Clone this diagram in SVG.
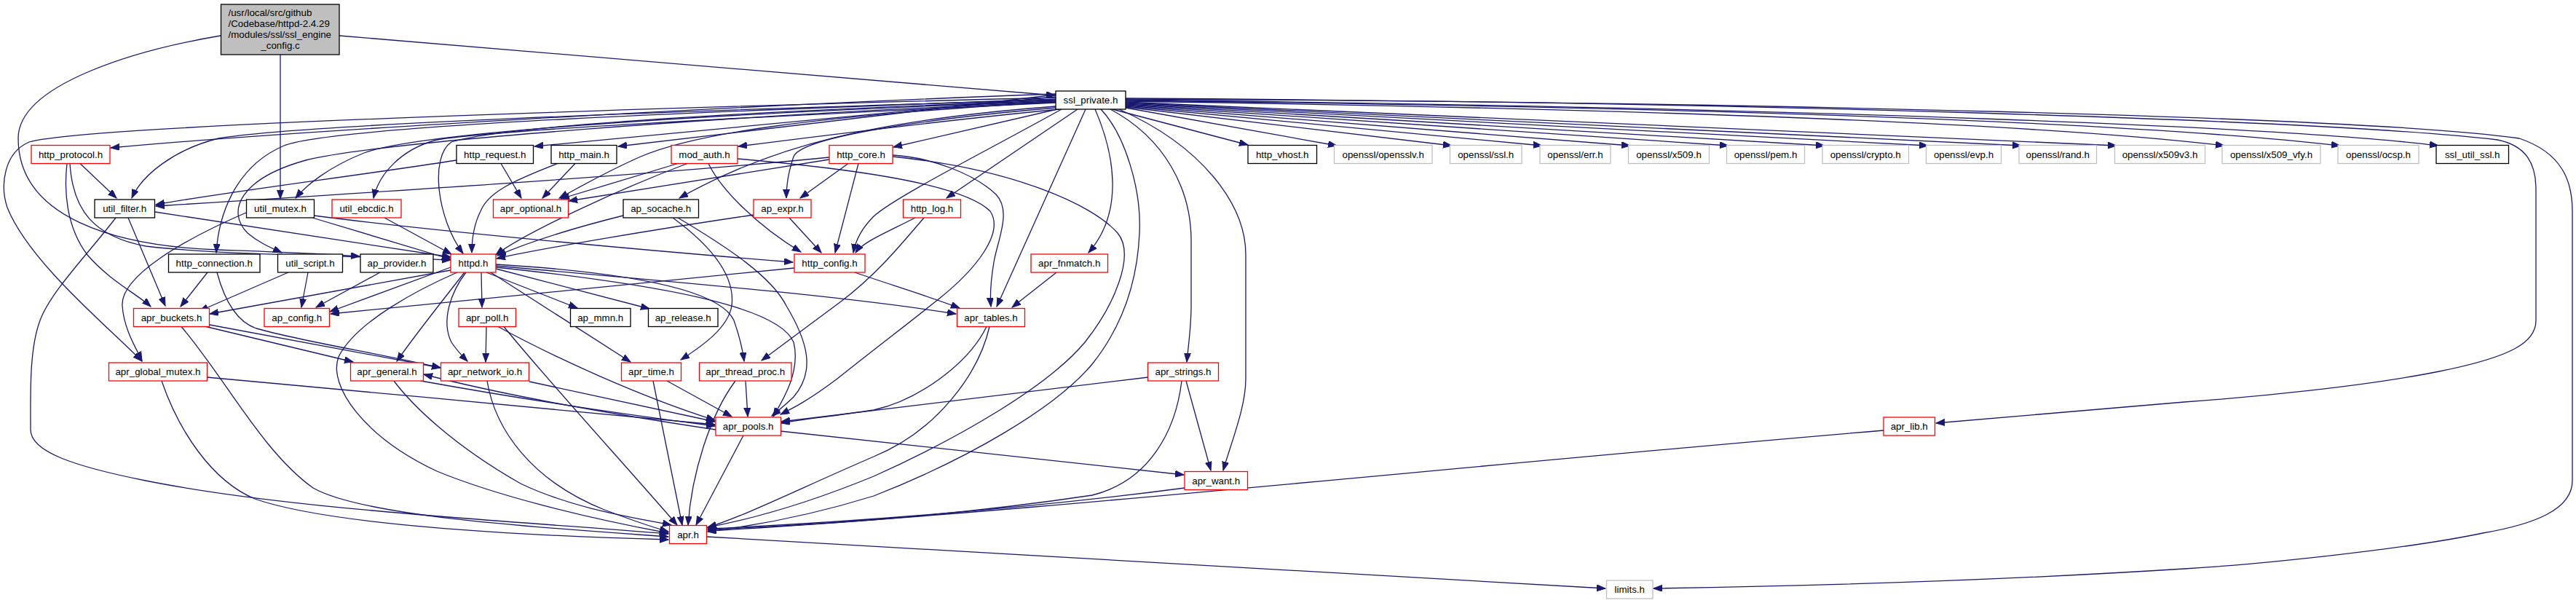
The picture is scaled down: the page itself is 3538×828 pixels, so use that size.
<svg xmlns="http://www.w3.org/2000/svg" width="3538" height="828" viewBox="0 0 3538 828">
<style>
rect{fill:#fff;stroke-width:1.3}
.b rect{stroke:#000}
.r rect{stroke:#ff0000}
.g rect{stroke:#bfbfbf}
.m rect{fill:#bfbfbf;stroke:#000}
text{font-family:"Liberation Sans",Arial,sans-serif;font-size:13.33px;text-anchor:middle;fill:#000}
#edges path{fill:none;stroke:#191970;stroke-width:1.3;marker-end:url(#a)}
</style>
<defs>
<marker id="a" markerWidth="13" markerHeight="10" refX="12" refY="4.5" orient="auto" markerUnits="userSpaceOnUse"><path d="M0,0 L12,4.5 L0,9 z" fill="#191970" stroke="#191970" stroke-width="1"/></marker>
</defs>
<rect x="0" y="0" width="3538" height="828" style="fill:#fff;stroke:none"/>
<g id="edges">
<!-- main -->
<path d="M466,49 L1449,131"/>
<path d="M385,75 L385,273"/>
<path d="M303,49 C190,68 25,115 25,190 C25,300 160,338 300,343 C380,346 440,348 494,352"/>
<!-- ssl_private -->
<path d="M1450,129 C1000,145 400,180 152,203"/>
<path d="M1450,133 L734,201"/>
<path d="M1450,130 L849,201"/>
<path d="M1455,150 C1300,165 1100,190 1014,201"/>
<path d="M1452,150 L1227,202"/>
<path d="M1528,150 L1714,199"/>
<path d="M1546,148 L1836,200"/>
<path d="M1546,147 L1994,200"/>
<path d="M1546,146 L2118,200"/>
<path d="M1546,145 L2239,200"/>
<path d="M1546,144 L2374,200"/>
<path d="M1546,143 L2506,200"/>
<path d="M1546,142 L2648,200"/>
<path d="M1546,141 L2776,200"/>
<path d="M1546,140 L2907,200"/>
<path d="M1546,139 C2300,150 2800,170 3055,200"/>
<path d="M1546,138 C2400,148 2950,170 3214,200"/>
<path d="M1546,137 C2500,148 3150,175 3349,200"/>
<path d="M1546,135 C2400,140 3200,165 3430,192 C3470,200 3483,225 3483,260 L3483,440 C3483,470 3450,490 3350,510 C3250,530 3100,545 3000,552 L2659,581"/>
<path d="M1546,136 C2400,140 3250,160 3460,190 C3520,210 3533,250 3533,290 L3533,660 C3533,700 3480,720 3410,732 C3300,755 3100,775 3000,781 C2700,800 2400,806 2271,808"/>
<path d="M1480,150 L1300,272"/>
<path d="M1450,148 C1250,165 1100,190 1090,215 C1083,235 1080,255 1080,272"/>
<path d="M1450,146 C1200,165 1060,200 933,272"/>
<path d="M1450,140 C1100,160 950,185 880,215 C830,237 800,255 768,272"/>
<path d="M1450,138 C1100,150 700,170 620,195 C590,215 600,300 636,348"/>
<path d="M1458,150 C1350,210 1230,270 1200,297 C1185,312 1175,330 1172,347"/>
<path d="M1450,137 C1000,150 420,170 300,190 C240,205 195,240 181,272"/>
<path d="M1450,139 C1000,155 580,180 500,210 C450,230 420,255 406,272"/>
<path d="M1450,141 C1050,160 680,178 600,192 C550,205 520,240 513,272"/>
<path d="M1450,136 C1000,152 460,172 390,200 C320,230 300,300 297,347"/>
<path d="M1450,140 C1000,158 520,195 420,220 C330,245 310,290 340,320 C355,333 372,340 387,347"/>
<path d="M1450,134 C900,148 120,172 40,195 C5,210 0,255 10,285 C40,360 150,450 195,496"/>
<path d="M1512,150 C1545,185 1568,260 1565,320 C1562,390 1540,450 1500,500 C1450,560 1330,630 1200,681 C1100,712 1020,724 972,730"/>
<path d="M1491,150 L1369,421"/>
<path d="M1504,150 C1530,210 1545,290 1495,347"/>
<path d="M1525,150 C1600,190 1636,260 1636,330 L1636,420 C1636,450 1632,475 1630,497"/>
<path d="M1537,150 C1650,200 1711,280 1711,350 L1711,520 C1711,560 1690,610 1680,646"/>
<!-- http_protocol -->
<path d="M110,224.5 L160,272"/>
<path d="M92,224.5 C88,260 90,310 120,350 C150,385 190,405 207,421"/>
<path d="M96,224.5 C100,290 130,325 200,338 C300,350 450,350 619,357"/>
<!-- http_request -->
<path d="M688,224.5 L716,272"/>
<path d="M627,220 C500,240 300,265 214,281"/>
<!-- http_main -->
<path d="M790,224.5 L745,272"/>
<path d="M766,224.5 C700,250 670,265 660,290 C650,310 648,330 648,347"/>
<!-- mod_auth -->
<path d="M931,224.5 L770,273"/>
<path d="M944,224.5 C850,260 720,320 681,350"/>
<path d="M973,224.5 C990,260 1040,310 1100,346"/>
<path d="M1013,218 C1150,230 1320,250 1360,290 C1380,320 1340,370 1290,410 C1240,450 1200,480 1150,520 C1110,550 1090,560 1072,569"/>
<!-- http_core -->
<path d="M1139,216 C900,240 500,265 214,283"/>
<path d="M1139,219 L781,276"/>
<path d="M1165,224.5 L1099,272"/>
<path d="M1179,224.5 L1147,347"/>
<path d="M1226,213 C1280,216 1340,240 1368,267 C1390,290 1370,330 1365,360 C1360,390 1360,410 1361,421"/>
<path d="M1226,215 C1390,232 1500,280 1535,320 C1560,350 1530,420 1490,470 C1440,530 1320,600 1200,654 C1100,695 1020,715 972,724"/>
<!-- ap_expr -->
<path d="M1035,295 C900,315 750,340 682,355"/>
<path d="M1084,299 L1128,347"/>
<!-- ap_socache -->
<path d="M856,296 C780,315 720,335 683,351"/>
<path d="M924,299 C980,340 1010,380 1005,420 C1000,450 965,475 935,494"/>
<path d="M931,299 C1000,340 1060,380 1080,420 C1110,470 1120,510 1090,545 C1080,555 1070,563 1060,571"/>
<!-- http_log -->
<path d="M1257,299 C1220,318 1185,332 1175,347"/>
<path d="M1269,299 C1230,345 1200,380 1155,414 L1046,495"/>
<!-- util_filter -->
<path d="M213,291 L619,353"/>
<path d="M176,299 L227,420"/>
<path d="M159,299 C120,350 70,400 55,440 C40,480 42,540 42,590 C42,620 100,640 200,660 C400,700 700,715 918,733"/>
<!-- util_mutex -->
<path d="M429,299 L619,356"/>
<path d="M431,296 C600,318 900,345 1089,360"/>
<path d="M338,292 C250,330 165,380 168,420 C170,450 185,475 195,495"/>
<!-- util_ebcdic -->
<path d="M528,299 L620,349"/>
<!-- http_connection -->
<path d="M285,374 L248,421"/>
<path d="M298,374 C305,400 320,440 352,451 C420,470 520,485 605,505"/>
<!-- util_script -->
<path d="M396,374 L274,427"/>
<path d="M423,374 L414,422"/>
<!-- ap_provider -->
<path d="M522,374 L434,422"/>
<!-- httpd -->
<path d="M619,367 L453,428"/>
<path d="M619,371 L288,431"/>
<path d="M661,374 L662,422"/>
<path d="M640,374 C620,400 605,440 620,470 C628,482 636,490 642,496"/>
<path d="M638,374 C610,410 570,460 545,496"/>
<path d="M668,374 L793,423"/>
<path d="M681,369 L892,424"/>
<path d="M674,374 L866,497"/>
<path d="M681,365 C900,385 1150,405 1313,431"/>
<path d="M681,363 C880,375 990,400 1008,440 C1015,460 1020,480 1022,496"/>
<path d="M681,367 C900,390 1070,420 1090,470 C1100,510 1075,550 1062,572"/>
<path d="M628,374 C580,395 490,440 465,490 C450,530 500,600 600,647 C680,680 800,710 918,732"/>
<!-- http_config -->
<path d="M1091,368 L454,431"/>
<path d="M1174,374 C1220,390 1270,405 1318,423"/>
<!-- apr_fnmatch -->
<path d="M1451,374 L1390,422"/>
<!-- apr_buckets -->
<path d="M283,448.5 L485,497"/>
<path d="M288,446 L605,505"/>
<path d="M249,448.5 C310,520 360,620 430,670 C500,710 750,725 918,737"/>
<!-- apr_poll -->
<path d="M668,448.5 L667,497"/>
<path d="M684,448.5 C760,490 880,545 982,577"/>
<path d="M692,448.5 C750,520 860,640 930,721"/>
<!-- apr_tables -->
<path d="M1355,448.5 C1330,500 1260,550 1200,563 C1140,572 1100,576 1073,581"/>
<path d="M1359,448.5 C1345,510 1290,590 1200,627 C1100,670 1020,710 972,724"/>
<!-- apr_global_mutex -->
<path d="M284,518 C500,538 800,565 982,583"/>
<path d="M222,523 C245,590 290,660 350,685 C450,720 700,735 918,741"/>
<!-- apr_general -->
<path d="M578,523 C700,545 850,568 982,585"/>
<path d="M541,523 C565,555 620,610 715,664 C790,700 880,712 922,721"/>
<!-- apr_network_io -->
<path d="M727,524 L982,579"/>
<path d="M669,523 C680,590 730,660 830,700 C870,715 900,725 918,730"/>
<!-- apr_time -->
<path d="M916,523 L1005,572"/>
<path d="M897,523 L937,721"/>
<!-- apr_thread_proc -->
<path d="M1024,523 L1027,572"/>
<path d="M1010,523 C975,570 950,650 945,721"/>
<!-- apr_strings -->
<path d="M1577,518 L1073,579"/>
<path d="M1623,523 C1615,590 1580,660 1500,680 C1300,710 1100,722 972,727"/>
<path d="M1629,523 L1663,646"/>
<!-- apr_pools -->
<path d="M983,590 C850,570 700,545 582,514"/>
<path d="M1021,598 L956,721"/>
<path d="M1072,592 L1626,652"/>
<!-- apr_lib -->
<path d="M2587,591 C2000,640 1400,705 972,729"/>
<!-- apr_want -->
<path d="M1627,670 C1400,700 1150,718 972,726"/>
<!-- apr -->
<path d="M971,737 L2205,808"/>
</g>
<g id="n_main" class="m"><rect x="303.5" y="6" width="162.5" height="69"/>
<text x="313.5" y="22" style="text-anchor:start">/usr/local/src/github</text>
<text x="313.5" y="37" style="text-anchor:start">/Codebase/httpd-2.4.29</text>
<text x="313.5" y="52" style="text-anchor:start">/modules/ssl/ssl_engine</text>
<text x="385" y="66.5">_config.c</text></g>
<g id="n_ssl_private" class="b"><rect x="1450" y="125" width="96" height="25"/><text x="1498" y="142">ssl_private.h</text></g>
<g id="n_http_protocol" class="r"><rect x="43" y="199.5" width="108" height="25"/><text x="97" y="216.5">http_protocol.h</text></g>
<g id="n_http_request" class="b"><rect x="627" y="199.5" width="105.5" height="25"/><text x="679.7" y="216.5">http_request.h</text></g>
<g id="n_http_main" class="b"><rect x="757" y="199.5" width="90" height="25"/><text x="802" y="216.5">http_main.h</text></g>
<g id="n_mod_auth" class="r"><rect x="922" y="199.5" width="91" height="25"/><text x="967.5" y="216.5">mod_auth.h</text></g>
<g id="n_http_core" class="r"><rect x="1139" y="199.5" width="87" height="25"/><text x="1182.5" y="216.5">http_core.h</text></g>
<g id="n_http_vhost" class="b"><rect x="1714" y="199.5" width="94.5" height="25"/><text x="1761.2" y="216.5">http_vhost.h</text></g>
<g id="n_opensslv" class="g"><rect x="1832.5" y="199.5" width="134.5" height="25"/><text x="1899.7" y="216.5">openssl/opensslv.h</text></g>
<g id="n_ossl_ssl" class="g"><rect x="1991.5" y="199.5" width="98.5" height="25"/><text x="2040.7" y="216.5">openssl/ssl.h</text></g>
<g id="n_ossl_err" class="g"><rect x="2115" y="199.5" width="97" height="25"/><text x="2163.5" y="216.5">openssl/err.h</text></g>
<g id="n_ossl_x509" class="g"><rect x="2236.5" y="199.5" width="111" height="25"/><text x="2292" y="216.5">openssl/x509.h</text></g>
<g id="n_ossl_pem" class="g"><rect x="2371.5" y="199.5" width="107" height="25"/><text x="2425" y="216.5">openssl/pem.h</text></g>
<g id="n_ossl_crypto" class="g"><rect x="2503" y="199.5" width="118.5" height="25"/><text x="2562.2" y="216.5">openssl/crypto.h</text></g>
<g id="n_ossl_evp" class="g"><rect x="2645.5" y="199.5" width="103" height="25"/><text x="2697" y="216.5">openssl/evp.h</text></g>
<g id="n_ossl_rand" class="g"><rect x="2773" y="199.5" width="106.5" height="25"/><text x="2826.2" y="216.5">openssl/rand.h</text></g>
<g id="n_ossl_x509v3" class="g"><rect x="2904.5" y="199.5" width="124" height="25"/><text x="2966.5" y="216.5">openssl/x509v3.h</text></g>
<g id="n_ossl_x509_vfy" class="g"><rect x="3052" y="199.5" width="135" height="25"/><text x="3119.5" y="216.5">openssl/x509_vfy.h</text></g>
<g id="n_ossl_ocsp" class="g"><rect x="3211" y="199.5" width="111" height="25"/><text x="3266.5" y="216.5">openssl/ocsp.h</text></g>
<g id="n_ssl_util_ssl" class="b"><rect x="3346" y="199.5" width="99.5" height="25"/><text x="3395.7" y="216.5">ssl_util_ssl.h</text></g>
<g id="n_util_filter" class="b"><rect x="130" y="274" width="82.5" height="25"/><text x="171.2" y="291">util_filter.h</text></g>
<g id="n_util_mutex" class="b"><rect x="338.5" y="274" width="93" height="25"/><text x="385" y="291">util_mutex.h</text></g>
<g id="n_util_ebcdic" class="r"><rect x="456" y="274" width="95" height="25"/><text x="503.5" y="291">util_ebcdic.h</text></g>
<g id="n_apr_optional" class="r"><rect x="677.5" y="274" width="103" height="25"/><text x="729" y="291">apr_optional.h</text></g>
<g id="n_ap_socache" class="b"><rect x="856" y="274" width="103.5" height="25"/><text x="907.7" y="291">ap_socache.h</text></g>
<g id="n_ap_expr" class="r"><rect x="1035" y="274" width="79" height="25"/><text x="1074.5" y="291">ap_expr.h</text></g>
<g id="n_http_log" class="r"><rect x="1240.5" y="274" width="79" height="25"/><text x="1280" y="291">http_log.h</text></g>
<g id="n_http_connection" class="b"><rect x="231.5" y="349" width="125.5" height="25"/><text x="294.2" y="366">http_connection.h</text></g>
<g id="n_util_script" class="b"><rect x="381.5" y="349" width="89" height="25"/><text x="426" y="366">util_script.h</text></g>
<g id="n_ap_provider" class="b"><rect x="495" y="349" width="100" height="25"/><text x="545" y="366">ap_provider.h</text></g>
<g id="n_httpd" class="r"><rect x="619" y="349" width="62" height="25"/><text x="650" y="366">httpd.h</text></g>
<g id="n_http_config" class="r"><rect x="1091" y="349" width="97" height="25"/><text x="1139.5" y="366">http_config.h</text></g>
<g id="n_apr_fnmatch" class="r"><rect x="1416" y="349" width="105.5" height="25"/><text x="1468.7" y="366">apr_fnmatch.h</text></g>
<g id="n_apr_buckets" class="r"><rect x="183.5" y="423.5" width="104" height="25"/><text x="235.5" y="440.5">apr_buckets.h</text></g>
<g id="n_ap_config" class="r"><rect x="363" y="423.5" width="89.5" height="25"/><text x="407.7" y="440.5">ap_config.h</text></g>
<g id="n_apr_poll" class="r"><rect x="630" y="423.5" width="78.5" height="25"/><text x="669.2" y="440.5">apr_poll.h</text></g>
<g id="n_ap_mmn" class="b"><rect x="783.5" y="423.5" width="82.5" height="25"/><text x="824.7" y="440.5">ap_mmn.h</text></g>
<g id="n_ap_release" class="b"><rect x="890.5" y="423.5" width="95.5" height="25"/><text x="938.2" y="440.5">ap_release.h</text></g>
<g id="n_apr_tables" class="r"><rect x="1314.5" y="423.5" width="93" height="25"/><text x="1361" y="440.5">apr_tables.h</text></g>
<g id="n_apr_global_mutex" class="r"><rect x="149.5" y="498" width="135" height="25"/><text x="217" y="515">apr_global_mutex.h</text></g>
<g id="n_apr_general" class="r"><rect x="481.5" y="498" width="100" height="25"/><text x="531.5" y="515">apr_general.h</text></g>
<g id="n_apr_network_io" class="r"><rect x="605.5" y="498" width="121" height="25"/><text x="666" y="515">apr_network_io.h</text></g>
<g id="n_apr_time" class="r"><rect x="853.5" y="498" width="82" height="25"/><text x="894.5" y="515">apr_time.h</text></g>
<g id="n_apr_thread_proc" class="r"><rect x="960.5" y="498" width="126.5" height="25"/><text x="1023.7" y="515">apr_thread_proc.h</text></g>
<g id="n_apr_strings" class="r"><rect x="1576.5" y="498" width="97" height="25"/><text x="1625" y="515">apr_strings.h</text></g>
<g id="n_apr_pools" class="r"><rect x="983" y="573" width="89.5" height="25"/><text x="1027.7" y="590">apr_pools.h</text></g>
<g id="n_apr_lib" class="r"><rect x="2587" y="573" width="70.5" height="25"/><text x="2622.2" y="590">apr_lib.h</text></g>
<g id="n_apr_want" class="r"><rect x="1627" y="647.5" width="86.5" height="25"/><text x="1670.2" y="664.5">apr_want.h</text></g>
<g id="n_apr" class="r"><rect x="919.5" y="721.5" width="51" height="25"/><text x="945" y="738.5">apr.h</text></g>
<g id="n_limits" class="g"><rect x="2206.5" y="797" width="63.5" height="25"/><text x="2238.2" y="814">limits.h</text></g>
</svg>
